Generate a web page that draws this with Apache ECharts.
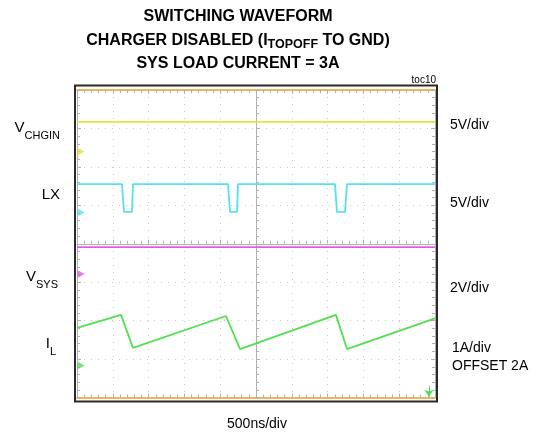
<!DOCTYPE html>
<html>
<head>
<meta charset="utf-8">
<script src="https://cdn.jsdelivr.net/npm/echarts@6/dist/echarts.min.js"></script>
<style>html,body{margin:0;padding:0;background:#fff;}#c{width:534px;height:438px;}</style>
</head>
<body>
<div id="c"></div>
<script>
// time in ns (500 ns/div, 10 div), amplitude in screen divisions (8 div, centre = 0)
const VCHGIN = [[-2500, 3.17], [2500, 3.17]];
const LX = [[-2500, 1.55], [-1871, 1.55], [-1844, 0.83], [-1732, 0.83], [-1718, 1.55],
            [-391, 1.55], [-363, 0.83], [-265, 0.83], [-251, 1.55],
            [1103, 1.55], [1131, 0.83], [1243, 0.83], [1271, 1.55], [2500, 1.55]];
const VSYS = [[-2500, -0.09], [2500, -0.09]];
const IL = [[-2500, -2.19], [-1885, -1.85], [-1718, -2.71], [-419, -1.88], [-223, -2.74],
            [1117, -1.85], [1271, -2.74], [2500, -1.94]];
const groundMarkers = [2.40, 0.81, -0.79, -3.17];
const traceColors = ['#e4e43a', '#55e2ee', '#e45ae4', '#50e050'];
const triggerArrowX = 2416;
const triggerArrowY = [-3.70, -3.98];

const FONT = 'Liberation Sans, Arial, sans-serif';
const chart = echarts.init(document.getElementById('c'), null, {renderer: 'canvas'});

const gray = '#b0b0b0';
function xAx(extra) {
  return Object.assign({
    type: 'value', min: -2500, max: 2500, interval: 500,
    axisLabel: {show: false},
    axisTick: {show: true, inside: true, length: 4, lineStyle: {color: gray}},
    minorTick: {show: true, splitNumber: 5, length: 3, lineStyle: {color: gray}},
    splitLine: {show: false}
  }, extra);
}
function yAx(extra) {
  return Object.assign({
    type: 'value', min: -4, max: 4, interval: 1,
    axisLabel: {show: false},
    axisTick: {show: true, inside: true, length: 4, lineStyle: {color: gray}},
    minorTick: {show: true, splitNumber: 5, length: 3, lineStyle: {color: gray}},
    splitLine: {show: false}
  }, extra);
}

const markerSeries = groundMarkers.map((v, i) => ({
  type: 'scatter', xAxisIndex: 0, yAxisIndex: 0,
  data: [[-2500, v]], symbol: 'triangle', symbolRotate: -90, symbolSize: [8, 7],
  symbolOffset: [4, 0], itemStyle: {color: traceColors[i]}, silent: true, z: 5
}));

const lineSeries = [VCHGIN, LX, VSYS, IL].map((d, i) => ({
  type: 'line', xAxisIndex: 0, yAxisIndex: 0, data: d, symbol: 'none',
  lineStyle: {color: traceColors[i], width: 1.8}, z: 4,
  markLine: i === 3 ? {
    silent: true, symbol: ['none', 'arrow'], symbolSize: 7, label: {show: false},
    lineStyle: {color: traceColors[3], width: 1, type: 'solid'},
    data: [[{coord: [triggerArrowX, triggerArrowY[0]]}, {coord: [triggerArrowX, triggerArrowY[1]]}]]
  } : undefined
}));

function rtext(x, y, text, rich, align) {
  return {type: 'text', x: x, y: y, style: {text: text, rich: rich, align: align || 'left', verticalAlign: 'middle', font: '14px ' + FONT, fill: '#000'}};
}
const labRich = {
  m: {fontSize: 15, fontFamily: FONT, lineHeight: 26, verticalAlign: 'middle', color: '#000'},
  s: {fontSize: 11, fontFamily: FONT, lineHeight: 11, verticalAlign: 'bottom', color: '#000'}
};
const titleRich = {
  b: {fontSize: 16, fontWeight: 'bold', fontFamily: FONT, lineHeight: 20, verticalAlign: 'middle', color: '#000'},
  s: {fontSize: 12.5, fontWeight: 'bold', fontFamily: FONT, lineHeight: 12, verticalAlign: 'bottom', color: '#000'}
};

chart.setOption({
  animation: false,
  grid: {left: 77, right: 99, top: 90, bottom: 40.5, show: false},
  xAxis: [
    xAx({axisLine: {onZero: true, lineStyle: {color: gray}},
         splitLine: {show: true, lineStyle: {color: '#c8c8c8', type: [1, 6]}}}),
    xAx({position: 'top', axisLine: {onZero: false, lineStyle: {color: '#f2b45c', width: 2}}}),
    xAx({position: 'bottom', axisLine: {onZero: false, lineStyle: {color: '#f2b45c', width: 2}}})
  ],
  yAxis: [
    yAx({axisLine: {onZero: true, lineStyle: {color: gray}},
         splitLine: {show: true, lineStyle: {color: '#c8c8c8', type: [1, 6]}}}),
    yAx({position: 'right', axisLine: {onZero: false, lineStyle: {color: gray}}}),
    yAx({position: 'left', axisLine: {onZero: false, lineStyle: {color: gray}}})
  ],
  series: lineSeries.concat(markerSeries),
  graphic: [
    {type: 'rect', shape: {x: 75, y: 85.5, width: 362, height: 316}, style: {fill: 'none', stroke: '#2a2a2a', lineWidth: 2}, z: 100},
    {type: 'text', x: 238, y: 17, style: {text: 'SWITCHING WAVEFORM', font: 'bold 16px ' + FONT, fill: '#000', align: 'center', verticalAlign: 'middle'}},
    rtext(238, 41, '{b|CHARGER DISABLED (I}{s|TOPOFF}{b| TO GND)}', titleRich, 'center'),
    {type: 'text', x: 238, y: 64, style: {text: 'SYS LOAD CURRENT = 3A', font: 'bold 16px ' + FONT, fill: '#000', align: 'center', verticalAlign: 'middle'}},
    {type: 'text', x: 436, y: 80, style: {text: 'toc10', font: '10px ' + FONT, fill: '#000', align: 'right', verticalAlign: 'middle'}},
    rtext(60, 128, '{m|V}{s|CHGIN}', labRich, 'right'),
    rtext(60, 195, '{m|LX}', labRich, 'right'),
    rtext(58, 277, '{m|V}{s|SYS}', labRich, 'right'),
    rtext(56, 344, '{m|I}{s|L}', labRich, 'right'),
    {type: 'text', x: 450, y: 125, style: {text: '5V/div', font: '14px ' + FONT, fill: '#000', verticalAlign: 'middle'}},
    {type: 'text', x: 450, y: 203, style: {text: '5V/div', font: '14px ' + FONT, fill: '#000', verticalAlign: 'middle'}},
    {type: 'text', x: 450, y: 288, style: {text: '2V/div', font: '14px ' + FONT, fill: '#000', verticalAlign: 'middle'}},
    {type: 'text', x: 452, y: 348, style: {text: '1A/div', font: '14px ' + FONT, fill: '#000', verticalAlign: 'middle'}},
    {type: 'text', x: 452, y: 366, style: {text: 'OFFSET 2A', font: '14px ' + FONT, fill: '#000', verticalAlign: 'middle'}},
    {type: 'text', x: 257, y: 424, style: {text: '500ns/div', font: '14px ' + FONT, fill: '#000', align: 'center', verticalAlign: 'middle'}}
  ]
});
</script>
</body>
</html>
